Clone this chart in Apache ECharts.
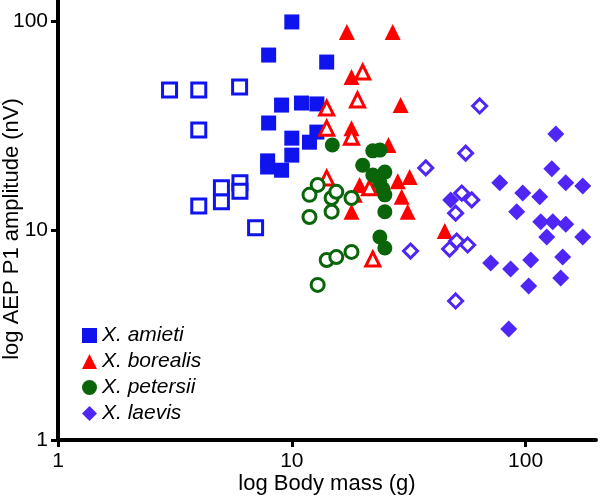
<!DOCTYPE html>
<html>
<head>
<meta charset="utf-8">
<script src="https://cdn.jsdelivr.net/npm/echarts@6/dist/echarts.min.js"></script>
<style>html,body{margin:0;padding:0;background:#fff}#c{width:600px;height:498px}</style>
</head>
<body>
<div id="c"></div>
<script>
// Data: [body mass (g), AEP P1 amplitude (nV)]
const amietiFilled = [[10,99],[7.96,68.8],[14.1,63.7],[9.04,39.7],[11.0,40.6],[12.8,40.2],[7.96,32.6],[10,27.6],[11.9,26.4],[12.8,29.5],[10,22.9],[7.88,21.5],[7.88,20.1],[9.04,19.4]];
const amietiOpen = [[3.0,46.9],[4.0,46.9],[5.98,48.4],[4.0,30.2],[4.0,13.1],[5.0,13.7],[5.0,16.0],[6.0,16.9],[6.0,15.4],[7.0,10.3]];
const borealisFilled = [[17.2,88.6],[27.0,88.6],[18.0,54.0],[29.2,39.7],[18.0,30.8],[25.9,25.6],[31.9,18.0],[28.4,17.2],[29.5,14.5],[18.0,12.3],[31.3,12.3],[45.1,9.95],[19.5,16.5],[18.6,14.8]];
const borealisOpen = [[20.1,57.1],[19.1,42.0],[14.1,38.4],[14.1,30.8],[18.0,27.9],[14.1,17.8],[21.5,16.0],[22.2,7.31]];
const petersiiFilled = [[14.9,25.6],[22.2,24.0],[23.8,24.2],[20.1,20.5],[22.2,18.4],[25.0,19.0],[23.8,16.9],[24.5,15.8],[25.0,14.8],[25.0,12.3],[23.8,9.31],[25.0,8.25]];
const petersiiOpen = [[12.9,16.5],[11.9,14.8],[14.8,14.3],[15.5,15.3],[18.0,14.3],[11.9,11.6],[14.8,12.3],[14.1,7.23],[15.5,7.47],[18.0,7.90],[12.9,5.50]];
const laevisFilled = [[134.6,28.9],[129.4,19.7],[148.5,16.9],[175.5,16.3],[77.5,16.9],[97.2,15.1],[114.9,14.5],[91.6,12.3],[47.8,14.0],[116.1,11.0],[130.6,11.0],[148.5,10.7],[123.1,9.31],[175.5,9.31],[70.9,7.0],[86.3,6.55],[105.1,7.23],[144.1,7.47],[103.1,5.43],[141.3,5.93],[84.7,3.39]];
const laevisOpen = [[63.6,39.3],[55.4,23.4],[37.4,19.9],[53.3,15.1],[58.8,14.0],[50.2,12.1],[47.3,8.16],[50.7,8.91],[56.5,8.53],[32.2,7.98],[50.2,4.61]];

const legendNames = ['X. amieti','X. borealis','X. petersii','X. laevis'];
const tickValues = [1, 10, 100];

const BLUE = '#0f14ee', RED = '#ff0000', GREEN = '#0a650a', VIOLET = '#4f26f5';

function filled(name, data, symbol, size, color) {
  return { name, type: 'scatter', data, symbol, symbolSize: size,
    itemStyle: { color, opacity: 1 }, emphasis: { disabled: true } };
}
function open(name, data, symbol, size, color, bw) {
  return { name, type: 'scatter', data, symbol, symbolSize: size,
    itemStyle: { color: '#ffffff', borderColor: color, borderWidth: bw, opacity: 1 }, emphasis: { disabled: true } };
}

const axisCommon = {
  type: 'log', logBase: 10, min: 1,
  nameMoveOverlap: false,
  axisLine: { show: true, lineStyle: { color: '#000', width: 4 } },
  axisTick: { show: true, length: 7, lineStyle: { color: '#000', width: 3 }, customValues: tickValues },
  axisLabel: { color: '#000', fontSize: 21, fontFamily: 'Liberation Sans, Arial, sans-serif', customValues: tickValues },
  splitLine: { show: false },
  minorTick: { show: false },
  nameTextStyle: { color: '#000', fontSize: 22, fontFamily: 'Liberation Sans, Arial, sans-serif' }
};

const chart = echarts.init(document.getElementById('c'), null, { renderer: 'canvas' });
chart.setOption({
  animation: false,
  backgroundColor: '#fff',
  grid: { left: 58, right: 4, top: 0, bottom: 58, containLabel: false, outerBoundsMode: 'none' },
  xAxis: Object.assign({}, axisCommon, {
    max: 200, name: 'log Body mass (g)', nameLocation: 'middle', nameGap: 33,
    axisLabel: Object.assign({}, axisCommon.axisLabel, { margin: 11 })
  }),
  yAxis: Object.assign({}, axisCommon, {
    max: 126, name: 'log AEP P1 amplitude (nV)', nameLocation: 'middle', nameGap: 35,
    nameTextStyle: Object.assign({}, axisCommon.nameTextStyle, { padding: [0, 18, 0, 0] }),
    axisLabel: Object.assign({}, axisCommon.axisLabel, { margin: 10 })
  }),
  legend: {
    data: legendNames, orient: 'vertical', left: 77, top: 320,
    itemWidth: 15, itemHeight: 15, itemGap: 5, selectedMode: false,
    textStyle: { color: '#000', fontSize: 21, fontStyle: 'italic', lineHeight: 21, fontFamily: 'Liberation Sans, Arial, sans-serif' }
  },
  series: [
    filled('X. amieti', amietiFilled, 'rect', 15, BLUE),
    open('amieti open', amietiOpen, 'rect', 14, BLUE, 3),
    filled('X. borealis', borealisFilled, 'triangle', 16, RED),
    open('borealis open', borealisOpen, 'triangle', 14, RED, 3),
    filled('X. petersii', petersiiFilled, 'circle', 15, GREEN),
    open('petersii open', petersiiOpen, 'circle', 13, GREEN, 3),
    filled('X. laevis', laevisFilled, 'diamond', 17, VIOLET),
    open('laevis open', laevisOpen, 'diamond', 14, VIOLET, 3)
  ]
});
</script>
</body>
</html>
